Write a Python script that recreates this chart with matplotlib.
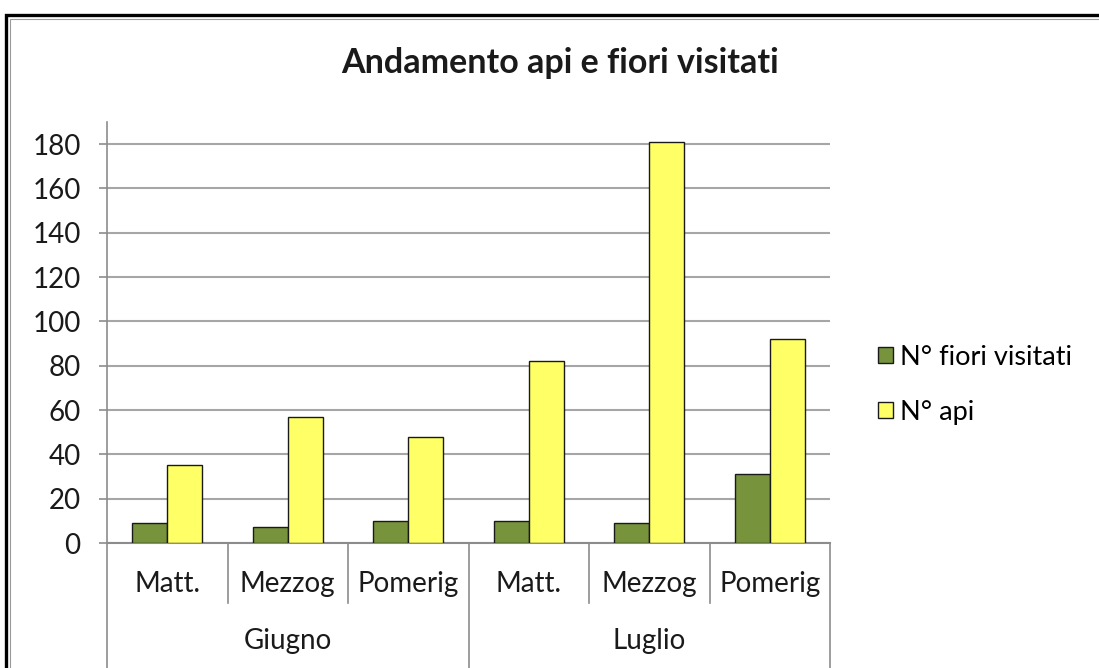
import matplotlib
matplotlib.use("Agg")
import matplotlib.pyplot as plt
from matplotlib.patches import Rectangle
from matplotlib.lines import Line2D
import numpy as np

months = ["Giugno", "Luglio"]
periods = ["Matt.", "Mezzog", "Pomerig", "Matt.", "Mezzog", "Pomerig"]
fiori = [9, 7, 10, 10, 9, 31]
api = [35, 57, 48, 82, 181, 92]
series_names = ["N° fiori visitati", "N° api"]
yticks = [0, 20, 40, 60, 80, 100, 120, 140, 160, 180]

plt.rcParams['font.family'] = ['Lato', 'DejaVu Sans']

W, H = 1099, 668
fig = plt.figure(figsize=(W / 100, H / 100), dpi=100)

# outer frame
fig.add_artist(Rectangle((6 / W, -0.05), 1.2, 1 - 15 / H + 0.05, transform=fig.transFigure,
                         fill=False, edgecolor='black', linewidth=2.4))
fig.add_artist(Rectangle((9.5 / W, -0.05), 1.2, 1 - 18.5 / H + 0.05, transform=fig.transFigure,
                         fill=False, edgecolor='#9a9a9a', linewidth=0.8))

left, right, bottom, top = 107 / W, 830 / W, 1 - 543 / H, 1 - 122 / H
ax = fig.add_axes([left, bottom, right - left, top - bottom])

FS = 20

x = np.arange(len(periods))
bw = 0.29
ax.bar(x - bw / 2, fiori, bw, color='#77933C', edgecolor='#1a1a1a', linewidth=1.0,
       label=series_names[0], zorder=3)
ax.bar(x + bw / 2, api, bw, color='#FFFF66', edgecolor='#1a1a1a', linewidth=1.0,
       label=series_names[1], zorder=3)

ax.set_xlim(-0.5, len(periods) - 0.5)
ax.set_ylim(0, 190)
ax.set_yticks(yticks)
ax.set_yticklabels([str(v) for v in yticks], fontsize=FS, color='#1a1a1a')
ax.yaxis.grid(True, color='#a6a6a6', linewidth=1.5, zorder=0)
ax.tick_params(axis='y', length=6, width=1.2, color='#8c8c8c', pad=13)
ax.set_xticks([])
for s in ['top', 'right']:
    ax.spines[s].set_visible(False)
ax.spines['left'].set_color('#8c8c8c')
ax.spines['left'].set_linewidth(1.2)
ax.spines['bottom'].set_color('#8c8c8c')
ax.spines['bottom'].set_linewidth(1.5)

# hierarchical category axis
trans = ax.get_xaxis_transform()
ah = 543 - 122
inner_drop = 60 / ah
outer_drop = 130 / ah
for i in range(len(periods) + 1):
    xb = i - 0.5
    drop = outer_drop if i % 3 == 0 else inner_drop
    ax.add_line(Line2D([xb, xb], [0, -drop], transform=trans, color='#8c8c8c',
                       linewidth=1.2, clip_on=False))
for i, p in enumerate(periods):
    ax.text(i, -41 / ah, p, transform=trans, ha='center', va='center', fontsize=FS,
            color='#1a1a1a')
for j, m in enumerate(months):
    ax.text(j * 3 + 1, -98 / ah, m, transform=trans, ha='center', va='center', fontsize=FS,
            color='#1a1a1a')

fig.text(560 / W, 1 - 63 / H, "Andamento api e fiori visitati", ha='center', va='center',
         fontsize=24.5, fontweight='bold', color='#1a1a1a')

leg = fig.legend(loc='upper left', bbox_to_anchor=(867 / W, 1 - 334 / H), frameon=False,
                 fontsize=19.5, handlelength=0.55, handleheight=0.55, handletextpad=0.25,
                 labelspacing=1.1, borderaxespad=0)

fig.savefig("out.png", dpi=100)
